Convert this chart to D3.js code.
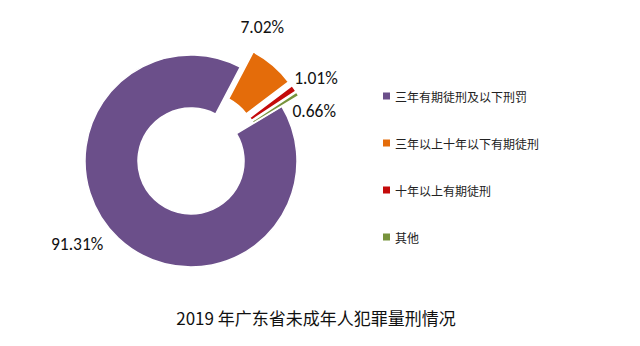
<!DOCTYPE html>
<html>
<head>
<meta charset="utf-8">
<script src="https://cdn.jsdelivr.net/npm/d3@7/dist/d3.min.js"></script>
<style>
  html, body { margin: 0; padding: 0; background: #fff; }
  svg { display: block; }
</style>
</head>
<body>
<svg id="chart" width="640" height="346"></svg>
<script>
// Sentencing categories and their shares (%)
const categories = ["三年有期徒刑及以下刑罚", "三年以上十年以下有期徒刑", "十年以上有期徒刑", "其他"];
const shares = [91.31, 7.02, 1.01, 0.66];
const colors = ["#6b4f8a", "#e46c0a", "#c40a0a", "#77933c"];
const exploded = [false, true, true, true];
const title = "2019 年广东省未成年人犯罪量刑情况";

const svg = d3.select("#chart");
const cx = 191, cy = 161;
const outerR = 106, innerR = 53;
const explodeDist = 20;
const rotation = 59 * Math.PI / 180;

const data = categories.map((c, i) => ({ name: c, value: shares[i], color: colors[i], explode: exploded[i] }));

const pie = d3.pie()
  .sort(null)
  .value(d => d.value)
  .startAngle(rotation)
  .endAngle(rotation + 2 * Math.PI);

const arc = d3.arc().innerRadius(innerR).outerRadius(outerR);
const arcs = pie(data);

const g = svg.append("g").attr("transform", `translate(${cx},${cy})`);

function shift(d) {
  if (!d.data.explode) return "translate(0,0)";
  const a = (d.startAngle + d.endAngle) / 2;
  return `translate(${Math.sin(a) * explodeDist},${-Math.cos(a) * explodeDist})`;
}

g.selectAll("path.slice")
  .data(arcs)
  .join("path")
  .attr("class", "slice")
  .attr("d", arc)
  .attr("transform", shift)
  .attr("fill", d => d.data.color)
  .attr("stroke", "#fff")
  .attr("stroke-width", 1.5);

// Data labels: placed outside the ring, nudged along the arc to avoid overlap
const labelLayout = [
  { da: 10.5, r: 141 },
  { da: -12.4, r: 152 },
  { da: 1.6, r: 150 },
  { da: 10.1, r: 133 }
];
function labelPos(d, i) {
  const a = (d.startAngle + d.endAngle) / 2 + labelLayout[i].da * Math.PI / 180;
  return [Math.sin(a) * labelLayout[i].r, -Math.cos(a) * labelLayout[i].r];
}
g.selectAll("text.val")
  .data(arcs)
  .join("text")
  .attr("class", "val")
  .attr("x", (d, i) => labelPos(d, i)[0])
  .attr("y", (d, i) => labelPos(d, i)[1])
  .attr("text-anchor", "middle")
  .attr("dominant-baseline", "central")
  .attr("font-family", "Carlito, 'Liberation Sans', Arial, sans-serif")
  .attr("font-size", 17.5)
  .attr("fill", "#111")
  .text(d => d3.format(".2f")(d.data.value) + "%");

// Legend
const legendY = d3.scalePoint().domain(categories).range([96, 237]);
const items = svg.append("g").selectAll("g")
  .data(data)
  .join("g")
  .attr("transform", d => `translate(383,${legendY(d.name)})`);
items.append("rect")
  .attr("x", 0).attr("y", -3.5)
  .attr("width", 7).attr("height", 7)
  .attr("fill", d => d.color);
items.append("text")
  .attr("x", 12)
  .attr("y", 0)
  .attr("dominant-baseline", "central")
  .attr("font-family", "'Noto Sans CJK SC', sans-serif")
  .attr("font-size", 12)
  .attr("fill", "#222")
  .text(d => d.name);

// Title
svg.append("text")
  .attr("x", 316)
  .attr("y", 317)
  .attr("text-anchor", "middle")
  .attr("dominant-baseline", "central")
  .attr("font-family", "'Noto Sans CJK SC', sans-serif")
  .attr("font-size", 17)
  .attr("fill", "#111")
  .text(title);
</script>
</body>
</html>
